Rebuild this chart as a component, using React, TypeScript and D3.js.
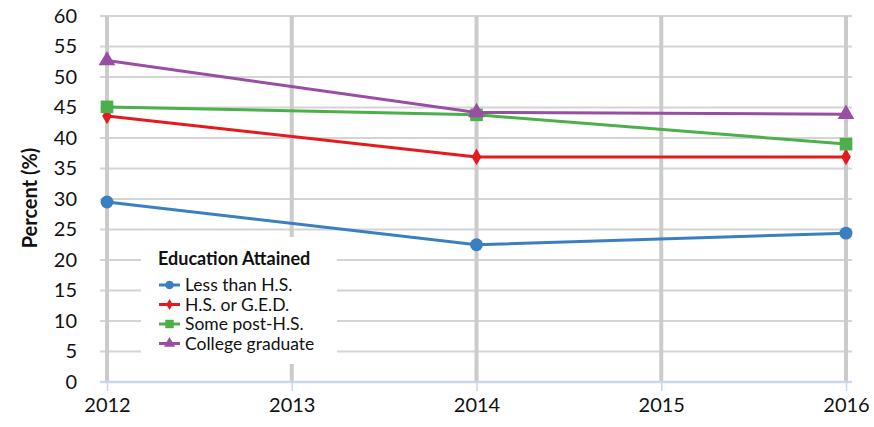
import React, { useRef, useEffect } from "react";
import * as d3 from "d3";

const years = [2012, 2013, 2014, 2015, 2016];
const seriesNames = ["Less than H.S.", "H.S. or G.E.D.", "Some post-H.S.", "College graduate"];
const dataYears = [2012, 2014, 2016];
const lessThanHS = [29.5, 22.5, 24.4];
const hsOrGed = [43.6, 36.9, 36.9];
const somePostHS = [45.1, 43.8, 39.0];
const collegeGrad = [52.7, 44.2, 43.9];
const yTicks = [0, 5, 10, 15, 20, 25, 30, 35, 40, 45, 50, 55, 60];

const colors = ["#3a7fc1", "#e41a1c", "#4daf4a", "#984ea3"];
const symbols = [d3.symbolCircle, d3.symbolDiamond, d3.symbolSquare, d3.symbolTriangle];
const symbolSizes = [130, 80, 160, 120];
const font = "Lato, 'Open Sans', sans-serif";

export default function App() {
  const ref = useRef<SVGSVGElement>(null);

  useEffect(() => {
    const svg = d3.select(ref.current);
    svg.selectAll("*").remove();

    const x = d3.scaleLinear().domain([2012, 2016]).range([107, 846]);
    const y = d3.scaleLinear().domain([0, 60]).range([382, 16]);

    // horizontal grid
    svg
      .append("g")
      .selectAll("line")
      .data(yTicks.filter((t) => t > 0))
      .join("line")
      .attr("x1", 100)
      .attr("x2", 852)
      .attr("y1", (d) => y(d))
      .attr("y2", (d) => y(d))
      .attr("stroke", "#d4d4d4")
      .attr("stroke-width", 2);

    // vertical thick grid
    svg
      .append("g")
      .selectAll("line")
      .data(years)
      .join("line")
      .attr("x1", (d) => x(d))
      .attr("x2", (d) => x(d))
      .attr("y1", y(60))
      .attr("y2", y(0))
      .attr("stroke", "#cbcbcb")
      .attr("stroke-width", 4);

    // x axis
    const xAxis = svg
      .append("g")
      .attr("transform", `translate(0,${y(0)})`)
      .call(
        d3
          .axisBottom(x)
          .tickValues(years)
          .tickFormat(d3.format("d"))
          .tickSize(9)
          .tickPadding(7)
      );
    xAxis.select(".domain").remove();
    xAxis.selectAll(".tick line").attr("stroke", "#c9d8e8").attr("stroke-width", 1.5);
    xAxis
      .selectAll(".tick text")
      .attr("font-family", font)
      .attr("font-size", 20)
      .attr("fill", "#111");
    svg
      .append("line")
      .attr("x1", 100)
      .attr("x2", 852)
      .attr("y1", y(0))
      .attr("y2", y(0))
      .attr("stroke", "#c9d8e8")
      .attr("stroke-width", 2.5);

    // y axis
    const yAxis = svg
      .append("g")
      .attr("transform", "translate(77,0)")
      .call(d3.axisLeft(y).tickValues(yTicks).tickSize(0).tickPadding(0));
    yAxis.select(".domain").remove();
    yAxis
      .selectAll(".tick text")
      .attr("font-family", font)
      .attr("font-size", 20)
      .attr("fill", "#111");

    svg
      .append("text")
      .attr("transform", `translate(37,${y(30) - 1}) rotate(-90)`)
      .attr("text-anchor", "middle")
      .attr("font-family", font)
      .attr("font-weight", "bold")
      .attr("font-size", 20)
      .attr("fill", "#111")
      .text("Percent (%)");

    const allSeries = [lessThanHS, hsOrGed, somePostHS, collegeGrad];
    const line = d3
      .line<number>()
      .x((_, i) => x(dataYears[i]))
      .y((d) => y(d));

    allSeries.forEach((vals, si) => {
      svg
        .append("path")
        .datum(vals)
        .attr("d", line)
        .attr("fill", "none")
        .attr("stroke", colors[si])
        .attr("stroke-width", 3);
      svg
        .append("g")
        .selectAll("path")
        .data(vals)
        .join("path")
        .attr("transform", (d, i) => `translate(${x(dataYears[i])},${y(d)})`)
        .attr("d", d3.symbol().type(symbols[si]).size(symbolSizes[si])())
        .attr("fill", colors[si]);
    });

    // legend
    const legend = svg.append("g").attr("transform", "translate(141,237)");
    legend
      .append("rect")
      .attr("width", 196)
      .attr("height", 127)
      .attr("fill", "#fff");
    legend
      .append("text")
      .attr("x", 17)
      .attr("y", 28)
      .attr("font-family", font)
      .attr("font-weight", "bold")
      .attr("font-size", 18)
      .attr("fill", "#111")
      .text("Education Attained");
    seriesNames.forEach((name, i) => {
      const ly = 48 + i * 19.5;
      legend
        .append("line")
        .attr("x1", 18)
        .attr("x2", 39)
        .attr("y1", ly)
        .attr("y2", ly)
        .attr("stroke", colors[i])
        .attr("stroke-width", 3);
      legend
        .append("path")
        .attr("transform", `translate(28.5,${ly})`)
        .attr("d", d3.symbol().type(symbols[i]).size(symbolSizes[i] * 0.45)())
        .attr("fill", colors[i]);
      legend
        .append("text")
        .attr("x", 44)
        .attr("y", ly + 6)
        .attr("font-family", font)
        .attr("font-size", 17.5)
        .attr("fill", "#111")
        .text(name);
    });
  }, []);

  return (
    <svg
      ref={ref}
      width={874}
      height={427}
      style={{ position: "absolute", left: 0, top: 0, background: "#fff" }}
    ></svg>
  );
}
